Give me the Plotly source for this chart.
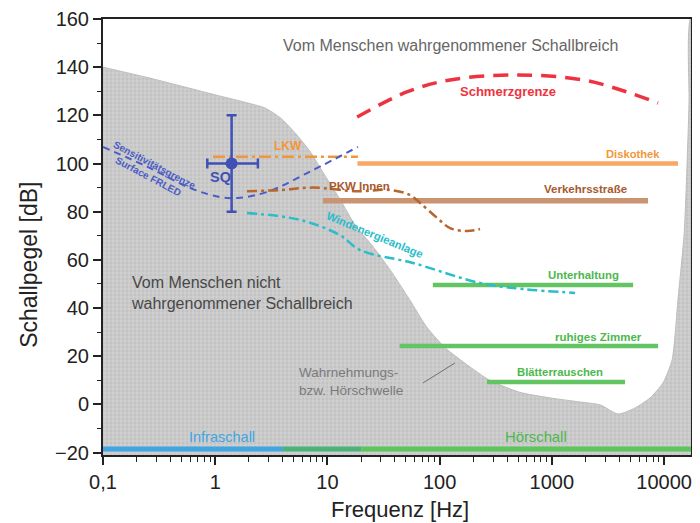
import plotly.graph_objects as go
import math

# ---------------- data ----------------
# hearing threshold (boundary of grey "not perceived" area)
thr_f = [0.1, 0.26, 1, 2, 2.8, 3.8, 5.2, 7, 9.5, 13, 17.6, 25.5, 36, 54, 77, 112, 175, 280,
         520, 965, 1785, 2700, 3900, 5500, 7500, 9800, 11800, 13300, 15100, 16000, 16700, 17060]
thr_db = [140, 135.5, 128.5, 125, 123, 119, 112.5, 105, 95, 85, 74.5, 65.5, 56, 43.5, 32, 23.5, 16.5, 10,
          5, 2.7, 1, -0.2, -4, -1.5, 2.7, 9, 18.5, 43.5, 71, 98.5, 126, 160]

# pain threshold
pain_f = [18.4, 51, 124, 490, 1900, 4680, 8830]
pain_db = [119.3, 129.7, 134.7, 136.8, 134.7, 129.7, 125.1]

# sensitivity limit (blue dashed)
sens_f = [0.1, 0.25, 0.6, 1.1, 1.57, 2.9, 7.45, 18.7]
sens_db = [106.9, 98.6, 89.8, 86.1, 85.7, 88.2, 97.3, 106.9]

# PKW Innen
pkw_f = [1.92, 3.78, 7.45, 18.4, 36, 54, 67, 95, 124, 175, 229]
pkw_db = [88.5, 89, 90, 88.5, 89, 87, 83.6, 77.4, 73.2, 72, 72.8]

# Windenergieanlage
wind_f = [1.92, 5.7, 12.9, 19.5, 58, 229, 553, 1610]
wind_db = [79.5, 76.6, 70.3, 64.1, 58.7, 50.4, 47.9, 46.3]

# horizontal level bands: (f_start, f_end, level)
lkw = (0.955, 18.7, 102.8)
disko = (18.5, 13300, 100)
verkehr = (9.1, 7200, 84.6)
unterh = (87, 5300, 49.6)
zimmer = (44, 8850, 24.3)
blaetter = (264, 4490, 9.3)

# SQ point with error bars
sq_f, sq_db = 1.4, 100
sq_f_lo, sq_f_hi = 0.85, 2.4
sq_db_err = 20

# frequency ranges along bottom
infra = (0.1, 4)
mid = (4, 20)
hoer = (20, 17400)
band_db = -18.5

x_tickvals = [0.1, 1, 10, 100, 1000, 10000]
x_ticktext = ["0,1", "1", "10", "100", "1000", "10000"]
y_tickvals = [-20, 0, 20, 40, 60, 80, 100, 120, 140, 160]

XMIN, XMAX = -1, 4.24
YMIN, YMAX = -21, 160

FONT = "Liberation Sans, Arial, sans-serif"

fig = go.Figure()

# grey hatched area below hearing threshold
poly_x = thr_f + [40000, 40000, 0.05, 0.05]
poly_y = thr_db + [200, -40, -40, 140]
fig.add_trace(go.Scatter(
    x=poly_x, y=poly_y, mode="lines", fill="toself",
    line=dict(color="#bdbdbd", width=1, shape="spline", smoothing=0.6),
    fillcolor="#c8c8c8",
    fillpattern=dict(shape="+", bgcolor="#c2c2c2", fgcolor="#e4e4e4", size=4, solidity=0.45),
    hoverinfo="skip", showlegend=False))

def hline(seg, color, width, dash="solid"):
    fig.add_trace(go.Scatter(x=[seg[0], seg[1]], y=[seg[2], seg[2]], mode="lines",
                             line=dict(color=color, width=width, dash=dash),
                             hoverinfo="skip", showlegend=False))

# level bands
hline(disko, "#f7a766", 4.5)
hline(verkehr, "#c99472", 5.5)
hline(unterh, "#62c462", 4.5)
hline(zimmer, "#62c462", 4.5)
hline(blaetter, "#62c462", 4.5)
hline(lkw, "#f3963a", 2.5, "12px,4px,3px,4px")

# curves
fig.add_trace(go.Scatter(x=pain_f, y=pain_db, mode="lines",
                         line=dict(color="#ee3340", width=3.5, dash="15px,9px", shape="spline"),
                         hoverinfo="skip", showlegend=False))
fig.add_trace(go.Scatter(x=sens_f, y=sens_db, mode="lines",
                         line=dict(color="#4a5cc6", width=2, dash="7px,5px", shape="spline"),
                         hoverinfo="skip", showlegend=False))
fig.add_trace(go.Scatter(x=pkw_f, y=pkw_db, mode="lines",
                         line=dict(color="#b8662c", width=2.5, dash="10px,4px,3px,4px", shape="spline"),
                         hoverinfo="skip", showlegend=False))
fig.add_trace(go.Scatter(x=wind_f, y=wind_db, mode="lines",
                         line=dict(color="#2bbdca", width=2.5, dash="10px,4px,3px,4px", shape="spline"),
                         hoverinfo="skip", showlegend=False))

# bottom frequency range bars
fig.add_trace(go.Scatter(x=[infra[0], infra[1]], y=[band_db, band_db], mode="lines",
                         line=dict(color="#3fa6e2", width=5), hoverinfo="skip", showlegend=False))
fig.add_trace(go.Scatter(x=[mid[0], mid[1]], y=[band_db, band_db], mode="lines",
                         line=dict(color="#4cb27a", width=5), hoverinfo="skip", showlegend=False))
fig.add_trace(go.Scatter(x=[hoer[0], hoer[1]], y=[band_db, band_db], mode="lines",
                         line=dict(color="#5cc65c", width=5), hoverinfo="skip", showlegend=False))

# threshold pointer line
fig.add_trace(go.Scatter(x=[71, 137], y=[8.9, 17.2], mode="lines",
                         line=dict(color="#707070", width=1), hoverinfo="skip", showlegend=False))

# SQ marker
fig.add_trace(go.Scatter(
    x=[sq_f], y=[sq_db], mode="markers",
    marker=dict(color="#3f51b5", size=12),
    error_y=dict(type="constant", value=sq_db_err, color="#3f51b5", thickness=2.5, width=5),
    error_x=dict(type="data", symmetric=False, array=[sq_f_hi - sq_f], arrayminus=[sq_f - sq_f_lo],
                 color="#3f51b5", thickness=2.5, width=5),
    hoverinfo="skip", showlegend=False))

L = math.log10
ann = []

def txt(x, y, s, color, size, bold=False, angle=0, xanchor="center", align="center"):
    ann.append(dict(x=L(x), y=y, xref="x", yref="y", text=("<b>%s</b>" % s) if bold else s,
                    showarrow=False, textangle=angle, xanchor=xanchor, yanchor="middle", align=align,
                    font=dict(family=FONT, size=size, color=color)))

txt(126, 149.2, "Vom Menschen wahrgenommener Schallbreich", "#666666", 16)
txt(407, 129.7, "Schmerzgrenze", "#ee3340", 13, True)
txt(4.45, 107.4, "LKW", "#f3963a", 12, True)
txt(5300, 104, "Diskothek", "#f3963a", 11.2, True)
txt(1980, 89.4, "Verkehrsstraße", "#a8582e", 11.5, True)
txt(19.3, 90.7, "PKW Innen", "#a8582e", 11.5, True)
txt(1.12, 94.5, "SQ", "#3f51b5", 14.5, True)
txt(1900, 53.7, "Unterhaltung", "#4cb84c", 11.4, True)
txt(2580, 28, "ruhiges Zimmer", "#4cb84c", 11.5, True)
txt(1180, 13.5, "Blätterrauschen", "#4cb84c", 11.3, True)
txt(26.5, 70.3, "Windenergieanlage", "#2bbdca", 11.3, True, angle=22.5)
txt(0.2735, 97.1, "Sensitivitätsgrenze<br>Surface FRLED", "#4a5cc6", 10, True, angle=28)
txt(0.1705, 46.3, "Vom Menschen nicht<br>wahrgenommener Schallbreich", "#484848", 16,
    xanchor="left", align="left")
txt(5.36, 9.5, "Wahrnehmungs-<br>bzw. Hörschwelle", "#7a7a7a", 13.5, xanchor="left", align="left")
txt(1.15, -13.5, "Infraschall", "#3fa6e2", 14.5)
txt(720, -13.5, "Hörschall", "#4cb84c", 14.8)

# axis titles (page has an 8px body margin: figure is 692x515 placed at 8,8)
ann.append(dict(x=-0.126, y=0.436, xref="paper", yref="paper", text="Schallpegel [dB]",
                showarrow=False, textangle=-90, xanchor="center", yanchor="middle",
                font=dict(family=FONT, size=23, color="#222222")))
ann.append(dict(x=0.505, y=-0.126, xref="paper", yref="paper", text="Frequenz [Hz]",
                showarrow=False, xanchor="center", yanchor="middle",
                font=dict(family=FONT, size=22, color="#222222")))

minor_x = [m * 10 ** e for e in range(-1, 5) for m in range(2, 10) if m * 10 ** e < 17400]

fig.update_layout(
    width=692, height=515,
    margin=dict(l=95, r=9, t=11, b=68, autoexpand=False),
    paper_bgcolor="white", plot_bgcolor="white",
    showlegend=False,
    annotations=ann,
    xaxis=dict(type="log", range=[XMIN, XMAX], tickvals=x_tickvals, ticktext=x_ticktext,
               automargin=False,
               ticks="outside", ticklen=8, tickwidth=1.5, tickcolor="#222",
               minor=dict(tickvals=minor_x, ticks="outside", ticklen=5, tickwidth=1, tickcolor="#222"),
               showgrid=False, zeroline=False, showline=True, linecolor="#222", linewidth=2, mirror=True,
               tickfont=dict(family=FONT, size=20, color="#222")),
    yaxis=dict(range=[YMIN, YMAX], tickvals=y_tickvals, automargin=False,
               ticks="outside", ticklen=8, tickwidth=1.5, tickcolor="#222",
               minor=dict(dtick=10, tick0=0, ticks="outside", ticklen=4, tickwidth=1, tickcolor="#222"),
               showgrid=False, zeroline=False, showline=True, linecolor="#222", linewidth=2, mirror=True,
               tickfont=dict(family=FONT, size=20, color="#222")),
)

fig.write_html("out.html")
